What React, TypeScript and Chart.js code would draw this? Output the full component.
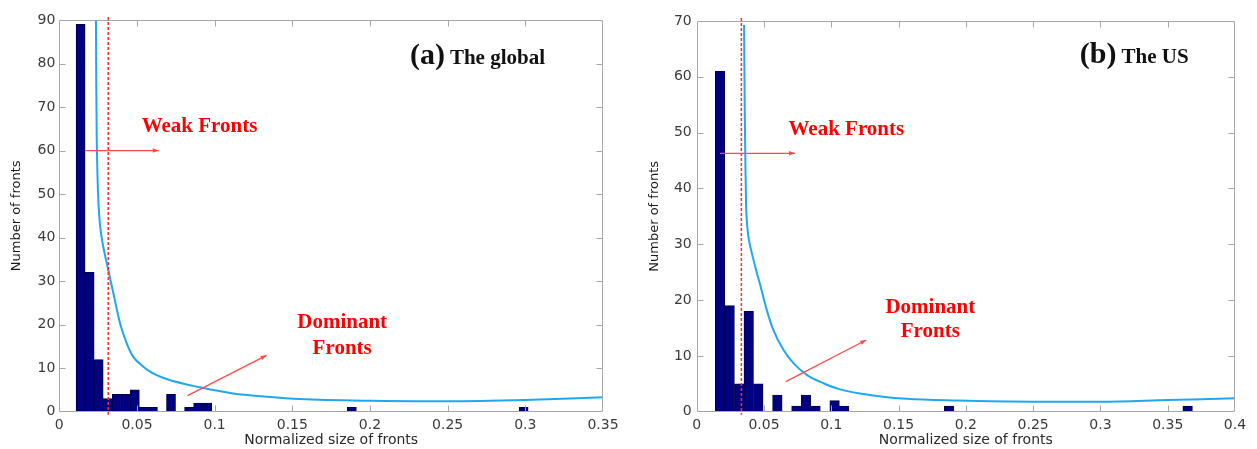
import React, { useEffect, useRef } from "react";
import { Chart, registerables } from "chart.js";

Chart.register(...registerables);

// ---------- Panel (a): The global ----------
const globalBinCenters = [0.01371, 0.01953, 0.02535, 0.03117, 0.03699, 0.04281, 0.04863, 0.05445, 0.06027, 0.07191, 0.08355, 0.08937, 0.09519, 0.18831, 0.29889];
const globalCounts = [89, 32, 12, 3, 4, 4, 5, 1, 1, 4, 1, 2, 2, 1, 1];
const globalCurveX = [0.0236, 0.0238, 0.0241, 0.0246, 0.0252, 0.0262, 0.0275, 0.0294, 0.0315, 0.0348, 0.0391, 0.0434, 0.0476, 0.053, 0.0584, 0.0691, 0.0906, 0.112, 0.1335, 0.155, 0.2, 0.25, 0.3, 0.35];
const globalCurveY = [90, 75, 63, 54, 48, 43, 39.5, 36, 32.6, 27.2, 20.3, 15.7, 12.6, 10.7, 9.2, 7.5, 5.6, 4.2, 3.45, 2.9, 2.5, 2.4, 2.7, 3.3];
const globalXMax = 0.35;
const globalYMax = 90;

// ---------- Panel (b): The US ----------
const usBinCenters = [0.01739, 0.02448, 0.03157, 0.03866, 0.04575, 0.05993, 0.07411, 0.0812, 0.08829, 0.10247, 0.10956, 0.18755, 0.3648];
const usCounts = [61, 19, 5, 18, 5, 3, 1, 3, 1, 2, 1, 1, 1];
const usCurveX = [0.0352, 0.0355, 0.0358, 0.0362, 0.0367, 0.0375, 0.0384, 0.0409, 0.044, 0.0471, 0.0521, 0.057, 0.0644, 0.0719, 0.0818, 0.0942, 0.1066, 0.1314, 0.156, 0.193, 0.25, 0.3, 0.35, 0.4];
const usCurveY = [69.3, 60, 52, 44, 37, 33.5, 31.4, 28.5, 25.5, 22.8, 18.2, 14.6, 11.1, 8.7, 6.6, 5.1, 4.0, 2.9, 2.3, 2.0, 1.8, 1.8, 2.1, 2.4];
const usXMax = 0.4;
const usYMax = 70;

// Threshold between weak and dominant fronts
const globalThreshold = 0.0315;
const usThreshold = 0.0332;

const xAxisTitle = "Normalized size of fronts";
const yAxisTitle = "Number of fronts";

type Anno = {
  threshold: number;
  panel: string;
  panelName: string;
  panelAt: [number, number];
  weakText: [number, number];
  weakArrow: [[number, number], [number, number]];
  domText: [number, number, number];
  domArrow: [[number, number], [number, number]];
};

const globalAnno: Anno = {
  threshold: globalThreshold,
  panel: "(a)",
  panelName: "The global",
  panelAt: [0.2257, 79.8],
  weakText: [0.053, 64.2],
  weakArrow: [[0.0166, 60], [0.064, 60]],
  domText: [0.1821, 19.2, 13.3],
  domArrow: [[0.0826, 3.7], [0.1334, 12.95]],
};

const usAnno: Anno = {
  threshold: usThreshold,
  panel: "(b)",
  panelName: "The US",
  panelAt: [0.2847, 62.4],
  weakText: [0.0682, 49.6],
  weakArrow: [[0.0173, 46.3], [0.0731, 46.3]],
  domText: [0.1736, 17.7, 13.3],
  domArrow: [[0.0662, 5.4], [0.126, 12.85]],
};

function drawArrow(ctx: CanvasRenderingContext2D, x1: number, y1: number, x2: number, y2: number) {
  ctx.beginPath();
  ctx.moveTo(x1, y1);
  ctx.lineTo(x2, y2);
  ctx.stroke();
  const ang = Math.atan2(y2 - y1, x2 - x1);
  const len = 6;
  const hw = 2.2;
  ctx.beginPath();
  ctx.moveTo(x2, y2);
  ctx.lineTo(x2 - len * Math.cos(ang) + hw * Math.sin(ang), y2 - len * Math.sin(ang) - hw * Math.cos(ang));
  ctx.lineTo(x2 - len * Math.cos(ang) - hw * Math.sin(ang), y2 - len * Math.sin(ang) + hw * Math.cos(ang));
  ctx.closePath();
  ctx.fill();
}

function makeDecor(a: Anno) {
  return {
    id: "decor",
    afterDatasetsDraw(chart: any) {
      const { ctx, chartArea: ca, scales } = chart;
      const x = scales.x;
      const y = scales.y;
      const px = (v: number) => x.getPixelForValue(v);
      const py = (v: number) => y.getPixelForValue(v);
      ctx.save();

      // frame + inward ticks
      const L = Math.round(ca.left) + 0.5;
      const R = Math.round(ca.right) - 0.5;
      const T = Math.round(ca.top) + 0.5;
      const B = Math.round(ca.bottom) - 0.5;
      ctx.strokeStyle = "#a6a6a6";
      ctx.lineWidth = 1;
      ctx.beginPath();
      ctx.rect(L, T, R - L, B - T);
      ctx.stroke();
      ctx.beginPath();
      x.ticks.forEach((t: any, i: number) => {
        if (i === 0 || i === x.ticks.length - 1) return;
        const p = Math.round(px(t.value)) + 0.5;
        ctx.moveTo(p, B);
        ctx.lineTo(p, B - 6);
        ctx.moveTo(p, T);
        ctx.lineTo(p, T + 6);
      });
      y.ticks.forEach((t: any, i: number) => {
        if (i === 0 || i === y.ticks.length - 1) return;
        const p = Math.round(py(t.value)) + 0.5;
        ctx.moveTo(L, p);
        ctx.lineTo(L + 6, p);
        ctx.moveTo(R, p);
        ctx.lineTo(R - 6, p);
      });
      ctx.stroke();

      // threshold dashed line
      const vx = px(a.threshold);
      ctx.strokeStyle = "#ff2a2a";
      ctx.lineWidth = 1.5;
      ctx.setLineDash([3, 2]);
      ctx.beginPath();
      ctx.moveTo(vx, ca.top - 3);
      ctx.lineTo(vx, ca.bottom + 3);
      ctx.stroke();
      ctx.setLineDash([]);

      // arrows
      ctx.strokeStyle = "#ff4a4a";
      ctx.fillStyle = "#ff4a4a";
      ctx.lineWidth = 1.3;
      drawArrow(ctx, px(a.weakArrow[0][0]), py(a.weakArrow[0][1]), px(a.weakArrow[1][0]), py(a.weakArrow[1][1]));
      drawArrow(ctx, px(a.domArrow[0][0]), py(a.domArrow[0][1]), px(a.domArrow[1][0]), py(a.domArrow[1][1]));

      // red labels
      ctx.fillStyle = "#ff0000";
      ctx.font = 'bold 21px "Liberation Serif"';
      ctx.textBaseline = "alphabetic";
      ctx.textAlign = "left";
      ctx.fillText("Weak Fronts", px(a.weakText[0]), py(a.weakText[1]));
      ctx.textAlign = "center";
      ctx.fillText("Dominant", px(a.domText[0]), py(a.domText[1]));
      ctx.fillText("Fronts", px(a.domText[0]), py(a.domText[2]));

      // panel title
      ctx.fillStyle = "#111111";
      ctx.textAlign = "left";
      ctx.font = 'bold 30px "Liberation Serif"';
      const tx = px(a.panelAt[0]);
      const ty = py(a.panelAt[1]);
      ctx.fillText(a.panel, tx, ty);
      const w = ctx.measureText(a.panel).width;
      ctx.font = 'bold 21px "Liberation Serif"';
      ctx.fillText(a.panelName, tx + w + 5, ty);

      ctx.restore();
    },
  };
}

function fmt(v: number) {
  return String(parseFloat(v.toFixed(3)));
}

type PanelProps = {
  centers: number[];
  counts: number[];
  curveX: number[];
  curveY: number[];
  xMax: number;
  yMax: number;
  anno: Anno;
  width: number;
  plotLeft: number;
  plotRight: number;
  plotTop: number;
  plotBottom: number;
  yTitleCenter: number;
  yTickPad: number;
  left: number;
};

function Panel(p: PanelProps) {
  const ref = useRef<HTMLCanvasElement | null>(null);
  useEffect(() => {
    if (!ref.current) return;
    const H = 449;
    const chart = new Chart(ref.current, {
      type: "bar",
      data: {
        datasets: [
          {
            type: "line",
            data: p.curveX.map((xv, i) => ({ x: xv, y: p.curveY[i] })),
            borderColor: "#20a8ee",
            borderWidth: 2,
            pointRadius: 0,
            cubicInterpolationMode: "monotone",
            fill: false,
            clip: false,
            order: 0,
          } as any,
          {
            type: "bar",
            data: p.centers.map((xv, i) => ({ x: xv, y: p.counts[i] })),
            backgroundColor: "#000080",
            borderColor: "#00003a",
            borderWidth: 0.8,
            barPercentage: 1,
            categoryPercentage: 1,
            order: 1,
          } as any,
        ],
      },
      options: {
        animation: false,
        responsive: false,
        maintainAspectRatio: false,
        layout: { padding: { left: 0, right: p.width - p.plotRight, top: p.plotTop, bottom: 0 } },
        plugins: { legend: { display: false }, tooltip: { enabled: false }, title: { display: false } },
        scales: {
          x: {
            type: "linear",
            min: 0,
            max: p.xMax,
            offset: false,
            grid: { display: false, drawTicks: false },
            border: { display: false },
            ticks: {
              stepSize: 0.05,
              padding: 5,
              maxRotation: 0,
              autoSkip: false,
              color: "#3a3a3a",
              font: { family: "DejaVu Sans", size: 14 },
              callback: (v: any) => fmt(Number(v)),
            },
            title: {
              display: true,
              text: xAxisTitle,
              color: "#2a2a2a",
              font: { family: "DejaVu Sans", size: 14 },
              padding: { top: 0, bottom: 0 },
            },
            afterFit: (s: any) => {
              s.height = H - p.plotBottom;
            },
          },
          y: {
            type: "linear",
            min: 0,
            max: p.yMax,
            grid: { display: false, drawTicks: false },
            border: { display: false },
            ticks: {
              stepSize: 10,
              padding: p.yTickPad,
              color: "#3a3a3a",
              font: { family: "DejaVu Sans", size: 14 },
            },
            title: {
              display: true,
              text: yAxisTitle,
              color: "#1a1a1a",
              font: { family: "DejaVu Sans", size: 13 },
              padding: { top: p.yTitleCenter - 7.8, bottom: 0 },
            },
            afterFit: (s: any) => {
              s.width = p.plotLeft;
            },
          },
        },
      },
      plugins: [makeDecor(p.anno)],
    } as any);
    return () => chart.destroy();
  }, []);
  return (
    <canvas
      ref={ref}
      width={p.width}
      height={449}
      style={{ position: "absolute", left: p.left, top: 0, width: p.width, height: 449, display: "block" }}
    />
  );
}

export default function App() {
  return (
    <div style={{ position: "fixed", left: 0, top: 0, width: 1257, height: 449, background: "#ffffff", overflow: "hidden" }}>
      <Panel
        centers={globalBinCenters}
        counts={globalCounts}
        curveX={globalCurveX}
        curveY={globalCurveY}
        xMax={globalXMax}
        yMax={globalYMax}
        anno={globalAnno}
        width={628}
        left={0}
        plotLeft={59.3}
        plotRight={603}
        plotTop={20}
        plotBottom={411.7}
        yTitleCenter={16.7}
        yTickPad={4}
      />
      <Panel
        centers={usBinCenters}
        counts={usCounts}
        curveX={usCurveX}
        curveY={usCurveY}
        xMax={usXMax}
        yMax={usYMax}
        anno={usAnno}
        width={629}
        left={628}
        plotLeft={68.7}
        plotRight={607}
        plotTop={21}
        plotBottom={411.7}
        yTitleCenter={26.3}
        yTickPad={5}
      />
    </div>
  );
}
